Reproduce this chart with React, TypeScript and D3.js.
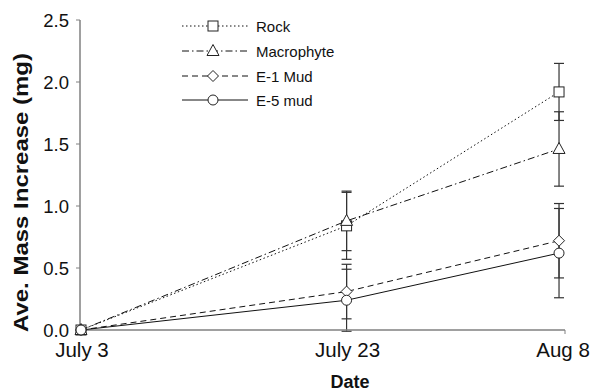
import React from "react";
import * as d3 from "d3";

const dates = ["July 3", "July 23", "Aug 8"];
const dayNums = [0, 20, 36];
const seriesNames = ["Rock", "Macrophyte", "E-1 Mud", "E-5 mud"];
const rock = [0, 0.84, 1.92];
const rockErr = [0, 0.27, 0.23];
const macro = [0, 0.88, 1.46];
const macroErr = [0, 0.24, 0.3];
const e1 = [0, 0.31, 0.72];
const e1Err = [0, 0.22, 0.3];
const e5 = [0, 0.24, 0.62];
const e5Err = [0, 0.25, 0.36];
const yTicks = [0, 0.5, 1.0, 1.5, 2.0, 2.5];

const series = [
  { name: seriesNames[0], v: rock, e: rockErr, dash: "1.5,2.5", marker: "square" },
  { name: seriesNames[1], v: macro, e: macroErr, dash: "7,3,1.5,3", marker: "triangle" },
  { name: seriesNames[2], v: e1, e: e1Err, dash: "6,4", marker: "diamond" },
  { name: seriesNames[3], v: e5, e: e5Err, dash: "none", marker: "circle" },
];

function Marker({ type, x, y }: { type: string; x: number; y: number }) {
  const st = { fill: "white", stroke: "#222", strokeWidth: 1 };
  if (type === "square") return <rect x={x - 5} y={y - 5} width={10} height={10} {...st} />;
  if (type === "triangle") return <path d={`M${x},${y - 6.5}L${x + 6},${y + 4.5}L${x - 6},${y + 4.5}Z`} {...st} />;
  if (type === "diamond") return <path d={`M${x},${y - 5.5}L${x + 5.5},${y}L${x},${y + 5.5}L${x - 5.5},${y}Z`} {...st} />;
  return <circle cx={x} cy={y} r={5} {...st} />;
}

export default function App() {
  const W = 592, H = 391;
  const x = d3.scaleLinear().domain([0, 36.45]).range([81, 565]);
  const y = d3.scaleLinear().domain([0, 2.5]).range([330, 20]);
  const line = d3.line<number>().x((_, i) => x(dayNums[i])).y((d) => y(d));
  const font = "Liberation Sans, Arial, Helvetica, sans-serif";
  const axisColor = "#808080";
  const legendY = [26, 51, 76, 100];
  const labelShift = [1, 1, 4];
  return (
    <svg width={W} height={H} style={{ position: "absolute", left: 0, top: 0 }} fontFamily={font}>
      {/* error bars */}
      {series.map((s) =>
        s.v.map((v, i) =>
          s.e[i] > 0 ? (
            <g key={s.name + i} stroke="#333" strokeWidth={1.2}>
              <line x1={x(dayNums[i])} x2={x(dayNums[i])} y1={y(v + s.e[i])} y2={y(v - s.e[i])} />
              <line x1={x(dayNums[i]) - 5} x2={x(dayNums[i]) + 5} y1={y(v + s.e[i])} y2={y(v + s.e[i])} />
              <line x1={x(dayNums[i]) - 5} x2={x(dayNums[i]) + 5} y1={y(v - s.e[i])} y2={y(v - s.e[i])} />
            </g>
          ) : null
        )
      )}
      {/* axes */}
      <g stroke={axisColor} strokeWidth={1.5} fill="none">
        <line x1={80} x2={80} y1={20} y2={330} />
        <line x1={80} x2={565} y1={330} y2={330} />
        <line x1={565} x2={565} y1={330} y2={334} strokeWidth={1} />
        {yTicks.map((t) => (
          <line key={t} x1={76} x2={80} y1={y(t)} y2={y(t)} strokeWidth={1} />
        ))}
      </g>
      {yTicks.map((t) => (
        <text key={t} x={69} y={y(t) + 6.7} textAnchor="end" fontSize={18.5} fill="#111">
          {t.toFixed(1)}
        </text>
      ))}
      {dates.map((d, i) => (
        <text key={d} x={x(dayNums[i]) + labelShift[i]} y={357} textAnchor="middle" fontSize={20.5} fill="#111">
          {d}
        </text>
      ))}
      {/* lines */}
      {series.map((s) => (
        <path key={s.name} d={line(s.v) || ""} fill="none" stroke="#111" strokeWidth={1} strokeDasharray={s.dash} />
      ))}
      {series.map((s) =>
        s.v.map((v, i) => <Marker key={s.name + "m" + i} type={s.marker} x={x(dayNums[i])} y={y(v)} />)
      )}
      {/* legend */}
      {series.map((s, i) => (
        <g key={"lg" + s.name}>
          <line x1={182} x2={248} y1={legendY[i]} y2={legendY[i]} stroke="#111" strokeWidth={1} strokeDasharray={s.dash} />
          <Marker type={s.marker} x={213} y={legendY[i]} />
          <text x={256} y={legendY[i] + 5.5} fontSize={15} fill="#111">
            {s.name}
          </text>
        </g>
      ))}
      <text
        transform={`translate(27.5,192.5) rotate(-90)`}
        textAnchor="middle"
        fontSize={20}
        fontWeight="bold"
        fill="#111"
        textLength={279}
        lengthAdjust="spacingAndGlyphs"
      >
        Ave. Mass Increase (mg)
      </text>
      <text x={350} y={388} textAnchor="middle" fontSize={18} fontWeight="bold" fill="#111">
        Date
      </text>
    </svg>
  );
}
